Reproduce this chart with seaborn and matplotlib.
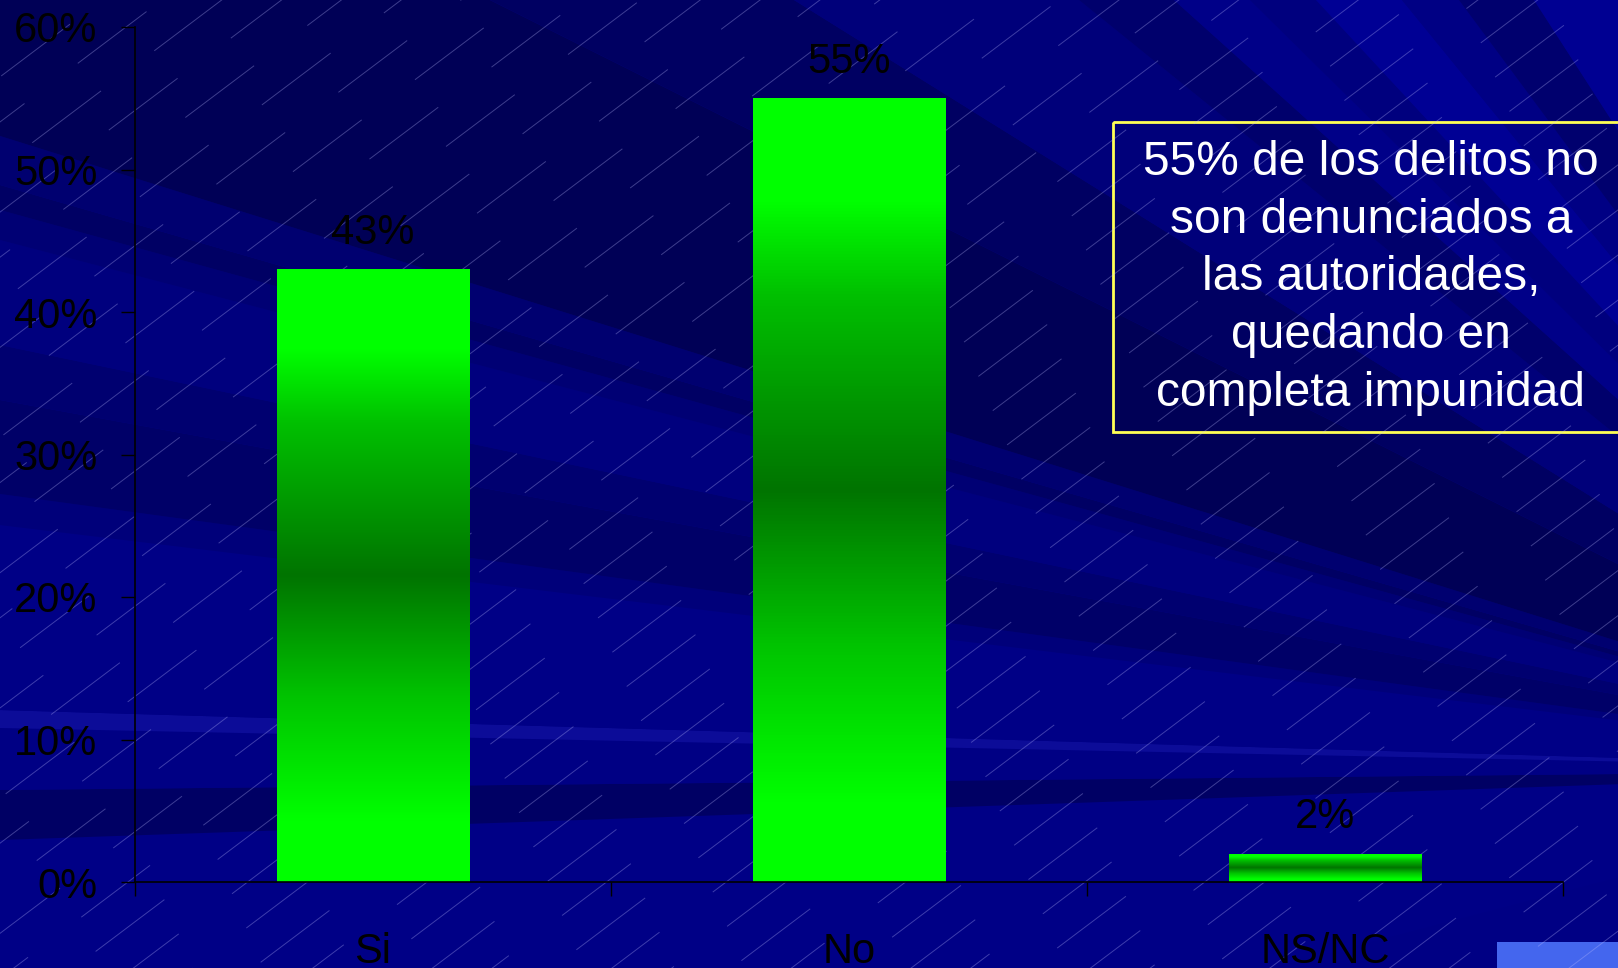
import numpy as np
import matplotlib
matplotlib.use("Agg")
import matplotlib.pyplot as plt
import seaborn as sns
from matplotlib.patches import Polygon, Rectangle
from matplotlib.collections import LineCollection
from matplotlib.colors import LinearSegmentedColormap

# data
categories = ["Si", "No", "NS/NC"]
values = [43, 55, 2]
value_labels = ["43%", "55%", "2%"]
y_ticks = [0, 10, 20, 30, 40, 50, 60]
y_tick_labels = ["0%", "10%", "20%", "30%", "40%", "50%", "60%"]
note = "55% de los delitos no\nson denunciados a\nlas autoridades,\nquedando en\ncompleta impunidad"

sns.set_theme(style="white")
plt.rcParams["font.family"] = ["Liberation Sans", "DejaVu Sans"]
plt.rcParams["lines.scale_dashes"] = False

W, H = 1618, 968
fig = plt.figure(figsize=(W / 100, H / 100), dpi=100)
fig.patch.set_facecolor("#000084")

# slide background: navy rays + faint diagonal hatch (pixel coords, y down)
bg = fig.add_axes([0, 0, 1, 1], zorder=0)
bg.set_xlim(0, W)
bg.set_ylim(H, 0)
bg.axis("off")
bg.add_patch(Rectangle((0, 0), W, H, color="#000084"))

origin = np.array([2030.0, 770.0])
ray_pts = [(0, 1300), (0, 840), (0, 790), (0, 728), (0, 710), (0, 525), (0, 494),
           (0, 400), (0, 345), (0, 240), (0, 210), (0, 185), (0, 136), (490, 0),
           (794, 0), (1079, 0), (1174, 0), (1250, 0), (1316, 0), (1402, 0),
           (1459, 0), (1534, 0), (2030, 0)]
ray_cols = ["#000086", "#000064", "#000084", "#0c0c98", "#000086", "#00007a",
            "#000068", "#000070", "#00007e", "#000074", "#000064", "#000070",
            "#000056", "#000062", "#00007a", "#00006c", "#000088", "#00007e",
            "#000094", "#000084", "#00006e", "#000092"]
for i, col in enumerate(ray_cols):
    p1 = origin + (np.array(ray_pts[i]) - origin) * 3
    p2 = origin + (np.array(ray_pts[i + 1]) - origin) * 3
    bg.add_patch(Polygon([origin, p1, p2], closed=True, color=col, lw=0))

ang = np.deg2rad(37)
d = np.array([np.cos(ang), -np.sin(ang)])
n = np.array([np.sin(ang), np.cos(ang)])
centre = np.array([W / 2, H / 2])
segs, styles = [], []
for k, off in enumerate(np.arange(-1100, 1100, 36)):
    base = centre + n * off
    segs.append([base - d * 1300, base + d * 1300])
    styles.append(((k * 41) % 110, (62, 48)))
bg.add_collection(LineCollection(segs, colors=(0.75, 0.75, 1.0, 0.32),
                                 linewidths=0.7, linestyles=styles))

bg.add_patch(Rectangle((1497, 942), 140, 40, color="#4466ee", lw=0))
bg.add_patch(Rectangle((1113, 122), 520, 310, fill=False, edgecolor="#ffff55", lw=2))

# chart
ax = fig.add_axes([135 / W, 1 - 882 / H, 1428 / W, 855 / H], zorder=2)
ax.set_facecolor("none")
sns.barplot(x=categories, y=values, ax=ax, width=0.405, color="#00ff00", saturation=1)

green = LinearSegmentedColormap.from_list("green", [
    (0.0, "#00ff00"), (0.1, "#00ff00"), (0.3, "#00c400"), (0.5, "#007400"),
    (0.75, "#00c000"), (0.87, "#00ff00"), (1.0, "#00ff00")])
grad = np.linspace(0, 1, 256).reshape(-1, 1)
for bar in ax.patches:
    x0, y0 = bar.get_x(), bar.get_y()
    im = ax.imshow(grad, cmap=green, aspect="auto", origin="lower",
                   extent=[x0, x0 + bar.get_width(), y0, y0 + bar.get_height()], zorder=2)
    im.set_clip_path(bar)
    bar.set_facecolor("none")
    bar.set_edgecolor("none")

ax.bar_label(ax.containers[0], labels=value_labels, padding=12, fontsize=30, color="black")

ax.set_xlim(-0.5, 2.5)
ax.set_ylim(0, 60)
ax.set_yticks(y_ticks)
ax.set_yticklabels(y_tick_labels)
ax.set_xticks([-0.5, 0.5, 1.5, 2.5], minor=True)
ax.tick_params(axis="y", left=True, length=10, width=1, color="black", pad=17,
               labelsize=30, labelcolor="black", direction="out")
ax.tick_params(axis="x", which="major", bottom=False, length=0, pad=36,
               labelsize=30, labelcolor="black")
ax.tick_params(axis="x", which="minor", bottom=True, length=10, width=1,
               color="black", direction="out")
ax.set_xlabel("")
ax.set_ylabel("")
sns.despine(ax=ax)
for side in ["left", "bottom"]:
    ax.spines[side].set_color("black")
    ax.spines[side].set_linewidth(1.2)

fig.text(1371 / W, 1 - 278 / H, note, ha="center", va="center", fontsize=34.5,
         color="white", linespacing=1.36, zorder=3)

fig.savefig("out.png", dpi=100, facecolor=fig.get_facecolor())
